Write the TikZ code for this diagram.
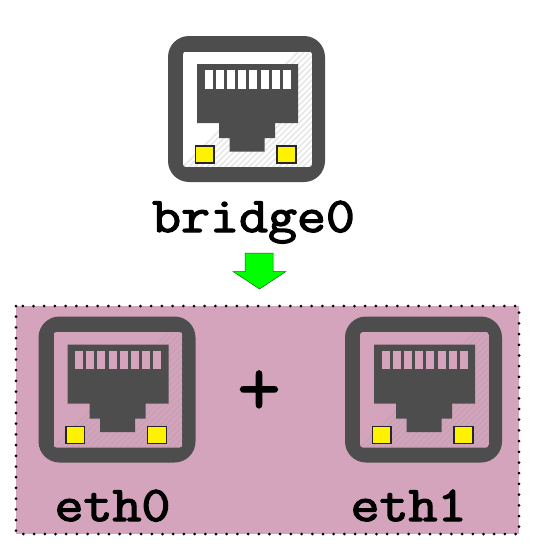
\documentclass[tikz,border=0pt]{standalone}
\usepackage{fontspec}
\newfontfamily\labelfont[FakeBold=2.5]{Latin Modern Mono}
\newfontfamily\plusfont[FakeBold=1.2]{Latin Modern Mono}
\tikzset{
  x=1pt,y=-1pt,
  labeltext/.style={font=\fontsize{50}{50}\selectfont\labelfont,text=black,inner sep=0pt,anchor=base,xscale=1.125},
  darkpart/.style={fill=icondark,draw=none},
  led/.style={fill=yellow,draw=black!85,line width=1.2pt},
  pics/rjport/.style={code={
    \fill[icondark,rounded corners=21pt] (0,0) rectangle (157,146);
    \begin{scope}
      \path[clip,rounded corners=3pt] (15,15.5) rectangle (144,131);
      \fill[#1] (15,15.5) rectangle (144,131);
      \foreach \k in {0,6,...,282}{
        \draw[hatchline,line width=1.5pt,opacity=.25] (\k,146) -- (\k+146,0);
      }
    \end{scope}
    \fill[darkpart] (29,28) -- (130,28) -- (130,87) -- (107,87) -- (107,102) -- (96.5,102) -- (96.5,115.5) -- (61.5,115.5) -- (61.5,102) -- (51,102) -- (51,87) -- (29,87) -- cycle;
    \foreach \k in {0,...,7}{
      \fill[#1] (36.5+11.2*\k,34) rectangle +(8,18.5);
    }
    \path[led] (27.5,110) rectangle (46,127);
    \path[led] (109,110) rectangle (128,127);
  }}
}
\definecolor{icondark}{HTML}{4D4D4D}
\definecolor{boxpink}{HTML}{D4A3BC}
\definecolor{hatchline}{HTML}{A0A0A0}
\begin{document}
\begin{tikzpicture}
  \useasboundingbox[fill=white] (0,0) rectangle (535,549);
  \pic at (168,36) {rjport=white};
  \node[labeltext] (bridge) at (253.5,232) {bridge0};
  \draw[fill=green,draw=green!45!black,line width=.5pt] (245,253) -- (273,253) -- (273,271.5) -- (286,271.5) -- (259.5,289) -- (233,271.5) -- (245,271.5) -- cycle;
  \fill[boxpink] (16,306) rectangle (519,534);
  \draw[black,line width=3pt,line cap=round,dash pattern=on 0pt off 10.7pt] (16,306) rectangle (519,534);
  \pic at (38.5,316.5) {rjport=boxpink};
  \pic at (345,316.5) {rjport=boxpink};
  \node[font=\fontsize{85}{85}\selectfont\plusfont,inner sep=0pt] (plus) at (259,393) {+};
  \node[labeltext] (eth0) at (112.5,521) {eth0};
  \node[labeltext] (eth1) at (408.5,521) {eth1};
\end{tikzpicture}
\end{document}
